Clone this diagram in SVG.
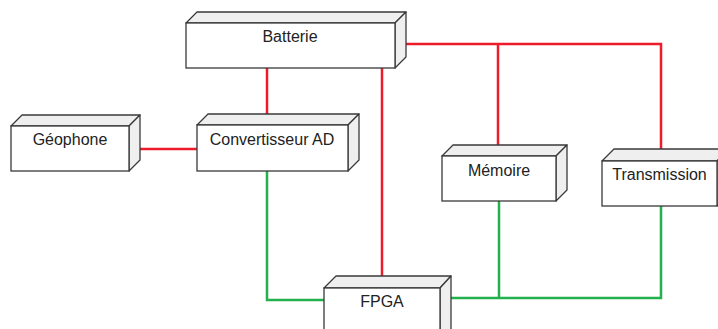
<svg xmlns="http://www.w3.org/2000/svg" width="718" height="329" viewBox="0 0 718 329">
  <style>
    .front { fill: #ffffff; stroke: #3a3a3a; stroke-width: 1.3; }
    .face { fill: #efefef; stroke: #3a3a3a; stroke-width: 1.3; stroke-linejoin: round; }
    .label { font-family: "Liberation Sans", Arial, sans-serif; font-size: 16px; fill: #222222; text-anchor: middle; }
    .power { fill: none; stroke: #ee1c2a; stroke-width: 2.5; }
    .data { fill: none; stroke: #22b14c; stroke-width: 2.5; }
  </style>

  <!-- connectors: red = power, green = data -->
  <g id="connectors">
    <polyline class="power" points="404,44 661,44 661,150"/>
    <line class="power" x1="498" y1="44" x2="498" y2="145"/>
    <line class="power" x1="267" y1="68" x2="267" y2="114"/>
    <line class="power" x1="382" y1="68" x2="382" y2="276"/>
    <line class="power" x1="135" y1="149" x2="198" y2="149"/>
    <polyline class="data" points="267,171 267,300 324,300"/>
    <polyline class="data" points="450,298 661,298 661,206"/>
    <line class="data" x1="499" y1="201" x2="499" y2="298"/>
  </g>

  <g id="batterie">
    <polygon class="face" points="186,23 197,12 406,12 395,23"/>
    <polygon class="face" points="395,23 406,12 406,57 395,68"/>
    <rect class="front" x="186" y="23" width="209" height="45"/>
    <text class="label" x="290" y="42">Batterie</text>
  </g>

  <g id="geophone">
    <polygon class="face" points="11,126 22,115 140,115 129,126"/>
    <polygon class="face" points="129,126 140,115 140,160 129,171"/>
    <rect class="front" x="11" y="126" width="118" height="45"/>
    <text class="label" x="70" y="144.5">Géophone</text>
  </g>

  <g id="convertisseur">
    <polygon class="face" points="197,125 208,114 359,114 348,125"/>
    <polygon class="face" points="348,125 359,114 359,160 348,171"/>
    <rect class="front" x="197" y="125" width="151" height="46"/>
    <text class="label" x="272" y="144.5">Convertisseur AD</text>
  </g>

  <g id="memoire">
    <polygon class="face" points="442,156 453,145 567,145 556,156"/>
    <polygon class="face" points="556,156 567,145 567,190 556,201"/>
    <rect class="front" x="442" y="156" width="114" height="45"/>
    <text class="label" x="499" y="176">Mémoire</text>
  </g>

  <g id="transmission">
    <polygon class="face" points="602,161 614,149 729,149 717,161"/>
    <polygon class="face" points="717,161 729,149 729,194 717,206"/>
    <rect class="front" x="602" y="161" width="115" height="45"/>
    <text class="label" x="659.5" y="179.5">Transmission</text>
  </g>

  <g id="fpga">
    <polygon class="face" points="324,288 336,276 451,276 440,288"/>
    <polygon class="face" points="440,288 451,276 451,338 440,350"/>
    <rect class="front" x="324" y="288" width="116" height="62"/>
    <text class="label" x="382" y="306.5">FPGA</text>
  </g>
</svg>
